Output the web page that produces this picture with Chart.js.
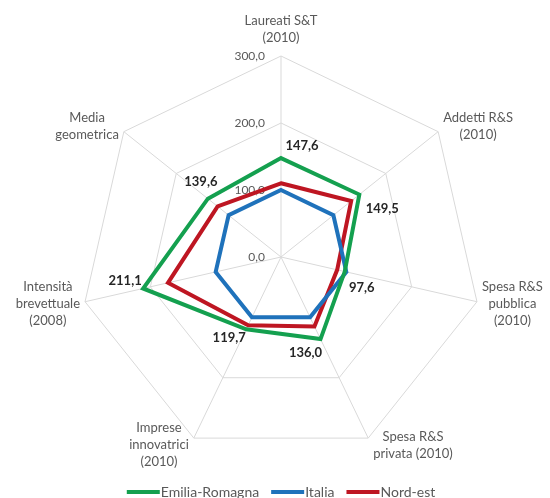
<!DOCTYPE html>
<html><head><meta charset="utf-8">
<script src="https://cdn.jsdelivr.net/npm/chart.js@4/dist/chart.umd.min.js"></script>
<style>html,body{margin:0;padding:0;background:#fff;}#wrap{width:550px;height:498px;}</style>
</head><body><div id="wrap"><canvas id="c" width="550" height="498"></canvas></div>
<script>
// ---- data ----
const categories = [
  ["Laureati S&T", "(2010)"],
  ["Addetti R&S", "(2010)"],
  ["Spesa R&S", "pubblica", "(2010)"],
  ["Spesa R&S", "privata (2010)"],
  ["Imprese", "innovatrici", "(2010)"],
  ["Intensità", "brevettuale", "(2008)"],
  ["Media", "geometrica"]
];
const seriesNames = ["Emilia-Romagna", "Italia", "Nord-est"];
const emiliaRomagna = [147.6, 149.5, 97.6, 136.0, 119.7, 211.1, 139.6];
const italia = [100, 100, 100, 100, 100, 100, 100];
const nordEst = [110, 134, 86, 115, 113, 173, 121];
const tickValues = [0, 100, 200, 300];
const tickLabels = ["0,0", "100,0", "200,0", "300,0"];

// ---- styles / layout ----
const colors = ["#14a04f", "#1f72bb", "#be1622"];
const geom = { cx: 281, cy: 257, r: 201 };
const FONT = "Lato, 'Open Sans', sans-serif";
const dataLabelOffsets = [[21,-12],[23,14],[17,16],[-15,14],[-17,9],[-18,-8],[-7,-17]];
const legendStyle = { y: 492, lineW: 33, gapText: 1, gapItem: 12, font: "14px " + FONT };

function fmt(v){ return v.toFixed(1).replace('.', ','); }

const textPlugin = {
  id: 'texts',
  beforeDatasetsDraw(chart){
    const s = chart.scales.r, ctx = chart.ctx;
    ctx.save();
    ctx.font = "12px " + FONT;
    ctx.fillStyle = "#595959";
    ctx.textAlign = "right";
    ctx.textBaseline = "middle";
    tickValues.forEach((v, i) => {
      const p = s.getPointPositionForValue(0, v);
      ctx.fillText(tickLabels[i], p.x - 16, p.y);
    });
    ctx.restore();
  },
  afterDatasetsDraw(chart){
    const s = chart.scales.r, ctx = chart.ctx;
    ctx.save();
    // point labels
    ctx.font = "13px " + FONT;
    ctx.fillStyle = "#595959";
    ctx.textBaseline = "middle";
    ctx.textAlign = "center";
    const lh = 17;
    categories.forEach((lines, i) => {
      const p = s.getPointPosition(i, s.drawingArea);
      const a = s.getIndexAngle(i);
      const w = Math.max(...lines.map(t => ctx.measureText(t).width));
      const h = lines.length * lh;
      let cxText, top;
      if (Math.abs(p.x - s.xCenter) < 2) {
        cxText = p.x;
        top = p.y - 18 - (lines.length - 0.5) * lh;
      } else {
        const right = p.x > s.xCenter;
        cxText = right ? p.x + 5 + w / 2 : p.x - 5 - w / 2;
        const midY = p.y - Math.cos(a) * 8;
        top = midY - h / 2;
      }
      lines.forEach((t, k) => ctx.fillText(t, cxText, top + lh * (k + 0.5)));
    });
    // data labels (Emilia-Romagna)
    ctx.font = "bold 13px " + FONT;
    ctx.fillStyle = "#262626";
    const meta = chart.getDatasetMeta(0);
    meta.data.forEach((pt, i) => {
      const o = dataLabelOffsets[i];
      ctx.fillText(fmt(emiliaRomagna[i]), pt.x + o[0], pt.y + o[1]);
    });
    // legend
    ctx.font = legendStyle.font;
    ctx.textAlign = "left";
    const ds = chart.data.datasets;
    const widths = ds.map(d => legendStyle.lineW + legendStyle.gapText + ctx.measureText(d.label).width);
    const total = widths.reduce((a, b) => a + b, 0) + legendStyle.gapItem * (ds.length - 1);
    let x = s.xCenter - total / 2;
    ds.forEach((d, i) => {
      ctx.strokeStyle = d.borderColor;
      ctx.lineWidth = 4;
      ctx.beginPath();
      ctx.moveTo(x, legendStyle.y);
      ctx.lineTo(x + legendStyle.lineW, legendStyle.y);
      ctx.stroke();
      ctx.fillStyle = "#595959";
      ctx.fillText(d.label, x + legendStyle.lineW + legendStyle.gapText, legendStyle.y);
      x += widths[i] + legendStyle.gapItem;
    });
    ctx.restore();
  }
};

function build(){
  new Chart(document.getElementById('c'), {
    type: 'radar',
    data: {
      labels: categories,
      datasets: [
        { label: seriesNames[0], data: emiliaRomagna },
        { label: seriesNames[1], data: italia },
        { label: seriesNames[2], data: nordEst }
      ].map((d, i) => Object.assign(d, {
        borderColor: colors[i], backgroundColor: colors[i], fill: false,
        borderWidth: 4, pointRadius: 0, pointHoverRadius: 0, tension: 0,
        borderJoinStyle: 'miter'
      }))
    },
    options: {
      responsive: false,
      devicePixelRatio: 1,
      animation: false,
      events: [],
      scales: {
        r: {
          min: 0, max: 300,
          ticks: { display: false, stepSize: 100 },
          pointLabels: { display: false },
          grid: { color: "#d9d9d9", lineWidth: 1 },
          angleLines: { color: "#d9d9d9", lineWidth: 1 },
          afterFit(scale){
            scale.xCenter = geom.cx; scale.yCenter = geom.cy; scale.drawingArea = geom.r;
          }
        }
      },
      plugins: {
        tooltip: { enabled: false },
        legend: { display: false }
      }
    },
    plugins: [textPlugin]
  });
}
document.fonts.load("12px Lato").then(build, build);
</script>
</body></html>
